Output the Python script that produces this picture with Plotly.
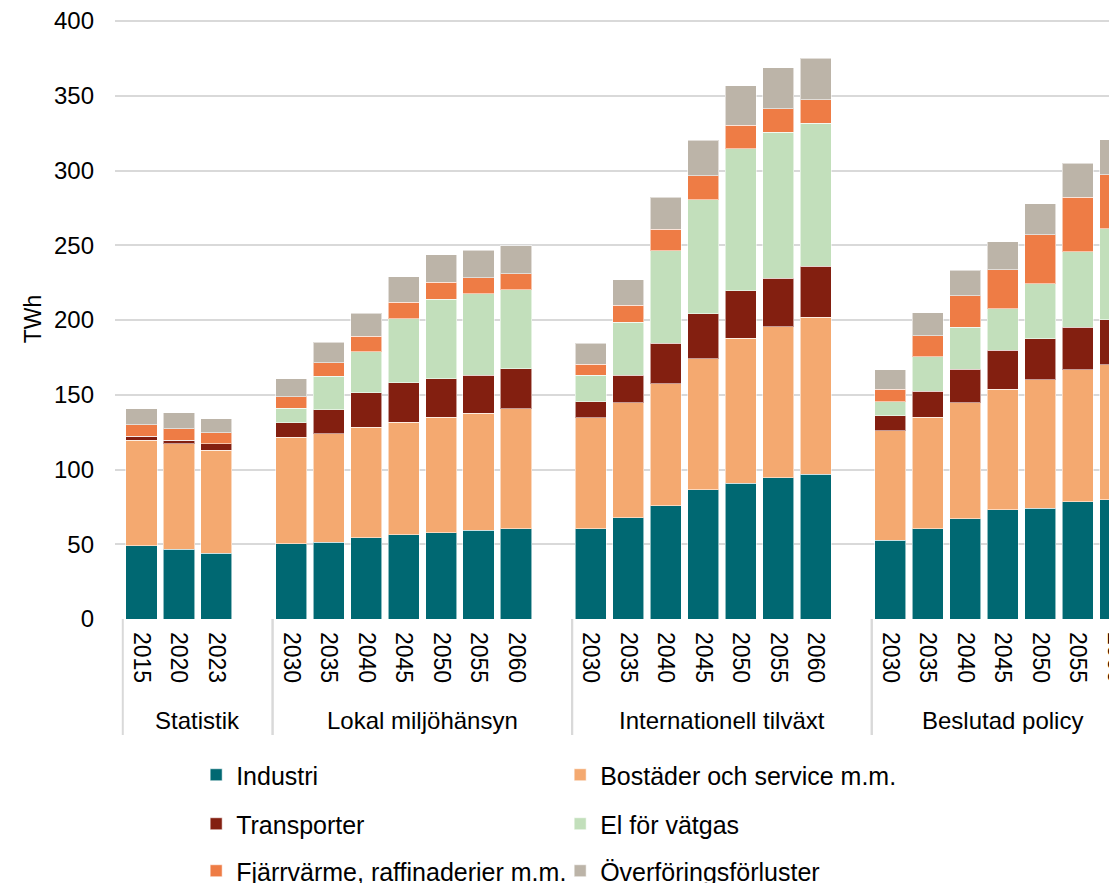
import plotly.graph_objects as go

# ---- data ----
groups = ["Statistik", "Lokal miljöhänsyn", "Internationell tilväxt", "Beslutad policy"]
years = [
    ["2015", "2020", "2023"],
    ["2030", "2035", "2040", "2045", "2050", "2055", "2060"],
    ["2030", "2035", "2040", "2045", "2050", "2055", "2060"],
    ["2030", "2035", "2040", "2045", "2050", "2055", "2060"],
]

industri = [49.0, 46.6, 44.1,
            50.2, 51.5, 54.2, 56.2, 57.7, 59.3, 60.4,
            60.5, 67.8, 75.8, 86.5, 90.8, 94.6, 96.8,
            52.8, 60.4, 67.1, 73.1, 74.2, 78.5, 79.8]
bostader = [70.7, 70.7, 68.9,
            71.3, 72.5, 74.0, 75.4, 77.4, 78.3, 80.3,
            74.2, 76.8, 81.6, 87.6, 97.1, 101.0, 105.0,
            73.2, 74.7, 77.6, 80.7, 85.7, 88.1, 90.3]
transporter = [2.7, 2.4, 4.1,
               9.8, 16.0, 23.0, 26.3, 25.6, 25.6, 26.7,
               10.6, 18.4, 27.0, 30.0, 31.8, 32.3, 34.1,
               10.0, 17.2, 22.3, 25.9, 27.4, 28.7, 30.1]
el_vatgas = [0, 0, 0,
             9.8, 22.5, 27.4, 43.0, 53.3, 54.2, 52.9,
             17.6, 35.5, 62.0, 76.4, 94.8, 97.8, 95.8,
             9.4, 23.0, 28.1, 27.9, 36.8, 50.4, 60.7]
fjarrvarme = [7.4, 7.4, 7.5,
              7.4, 8.9, 10.7, 11.1, 11.4, 10.9, 10.7,
              7.6, 11.4, 14.4, 15.9, 15.7, 15.7, 15.6,
              8.4, 14.2, 21.2, 26.1, 33.0, 36.4, 36.3]
forluster = [10.7, 10.9, 9.4,
             12.2, 13.7, 15.2, 16.8, 18.1, 18.3, 18.7,
             14.1, 17.1, 21.2, 23.7, 26.4, 27.4, 27.7,
             12.8, 15.2, 17.1, 18.5, 20.5, 22.9, 23.4]

series_names = ["Industri", "Bostäder och service m.m.", "Transporter",
                "El för vätgas", "Fjärrvärme, raffinaderier m.m.", "Överföringsförluster"]
series_values = [industri, bostader, transporter, el_vatgas, fjarrvarme, forluster]
colors = ["#006872", "#F4A970", "#831F10", "#C2DFBB", "#EE7C45", "#BCB4A8"]
legend_ids = ["legend", "legend", "legend2", "legend2", "legend3", "legend3"]

# ---- category positions (one empty slot after each group except the last) ----
xpos, ticktext, group_bounds = [], [], []
slot = 0
for gi, ys in enumerate(years):
    start = slot - 0.5
    for y in ys:
        xpos.append(slot)
        ticktext.append(y)
        slot += 1
    if gi < len(years) - 1:
        slot += 1
    group_bounds.append((start, slot - 0.5))

FONT = "Arial, Liberation Sans, sans-serif"
fig = go.Figure()
for name, vals, col, lg in zip(series_names, series_values, colors, legend_ids):
    fig.add_trace(go.Bar(
        x=xpos, y=vals, name=name, width=0.83,
        marker=dict(color=col, line=dict(color="rgba(255,255,255,0.55)", width=1)),
        legend=lg,
    ))

# plot area: 600 px tall; paper y for a pixel offset below the axis
PH = 600.0
def below(px):
    return -px / PH

# group labels and dividers
for g, (a, b) in zip(groups, group_bounds):
    fig.add_annotation(x=(a + b) / 2, y=below(101), xref="x", yref="paper",
                       text=g, showarrow=False, yanchor="middle",
                       font=dict(family=FONT, size=24, color="#000000"))
    for xv in (a, b):
        fig.add_shape(type="line", xref="x", yref="paper", x0=xv, x1=xv,
                      y0=0, y1=below(116), line=dict(color="#D9D9D9", width=2))

legend_common = dict(orientation="h", xanchor="left", yanchor="middle",
                     traceorder="normal",
                     font=dict(family=FONT, size=25, color="#000000"),
                     entrywidth=319, entrywidthmode="pixels",
                     bgcolor="rgba(0,0,0,0)", itemclick=False)
fig.update_layout(
    width=1109, height=875,
    margin=dict(l=107, r=0, t=11, b=264, autoexpand=False),
    plot_bgcolor="white", paper_bgcolor="white",
    barmode="stack",
    font=dict(family=FONT, size=24, color="#000000"),
    xaxis=dict(range=[-0.708, 26.05], tickvals=xpos, ticktext=ticktext,
               tickangle=90, showgrid=False, zeroline=False, showline=False,
               ticks="", ticklabelstandoff=12, ticklabeloverflow="allow",
               tickfont=dict(family=FONT, size=23, color="#000000")),
    yaxis=dict(range=[0, 401.34], tickvals=list(range(0, 401, 50)),
               showgrid=True, gridcolor="#D9D9D9", gridwidth=2,
               zeroline=False, showline=False, ticks="",
               ticklabelstandoff=20, ticklabeloverflow="allow",
               tickfont=dict(family=FONT, size=24, color="#000000"),
               title=dict(text="TWh", font=dict(family=FONT, size=23, color="#000000"),
                          standoff=5)),
    legend=dict(x=0.081, y=below(156), **legend_common),
    legend2=dict(x=0.081, y=below(205), **legend_common),
    legend3=dict(x=0.081, y=below(252), **legend_common),
    showlegend=True,
)

fig.write_html("out.html")
